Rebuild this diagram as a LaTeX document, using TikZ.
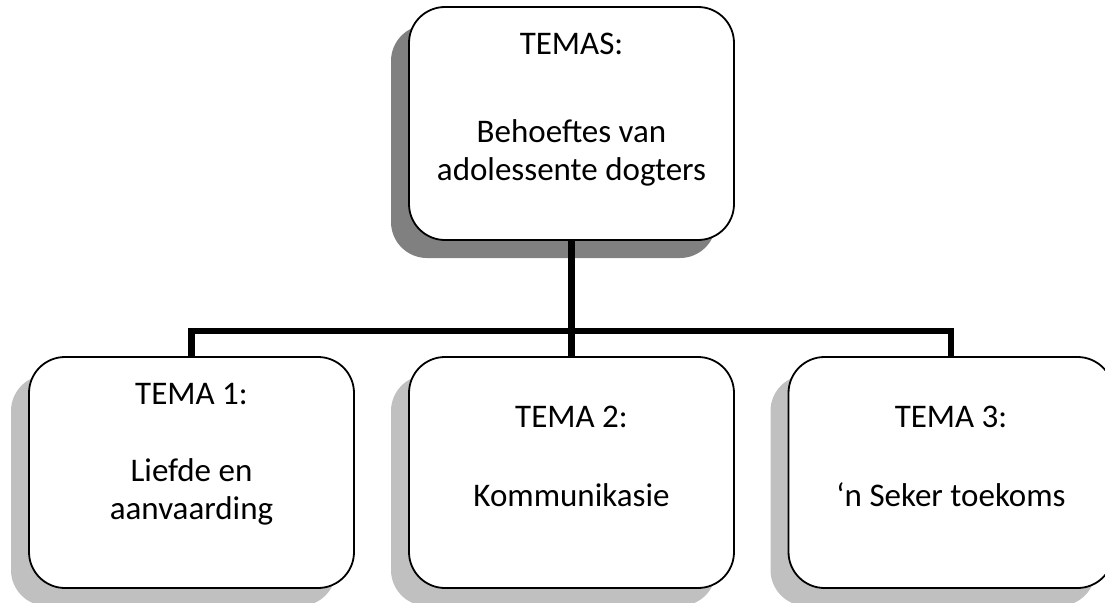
\documentclass[tikz,border=0pt]{standalone}
\usepackage{fontspec}
\setmainfont{Carlito}
\usetikzlibrary{shadows}
\definecolor{shdark}{HTML}{808080}
\definecolor{shlight}{HTML}{C0C0C0}
\tikzset{
  box/.style={draw=black, line width=1.8pt, fill=white, rounded corners=36pt,
    minimum width=325pt, minimum height=#1, inner sep=0pt, outer sep=0pt},
  darkshadow/.style={drop shadow={shadow xshift=-18pt, shadow yshift=-18pt, fill=shdark, draw=none, opacity=1}},
  lightshadow/.style={drop shadow={shadow xshift=-18pt, shadow yshift=-18pt, fill=shlight, draw=none, opacity=1}},
  conn/.style={line width=6.5pt, line join=miter, line cap=butt},
  txt/.style={anchor=base, inner sep=0pt, font=\fontsize{33}{38}\selectfont}
}
\begin{document}
\begin{tikzpicture}[x=1pt, y=-1pt]
\useasboundingbox (0,0) rectangle (1105,602);
\clip (0,0) rectangle (1105,602);
% boxes
\node[box=233pt, darkshadow] (top) at (571.5,123.5) {};
\node[box=231pt, lightshadow] (t1) at (191.5,472.5) {};
\node[box=231pt, lightshadow] (t2) at (571.5,472.5) {};
\node[box=231pt, lightshadow] (t3) at (951,472.5) {};
% connectors
\coordinate (hub) at (571.5,331);
\draw[conn] (top.south) -- (hub);
\draw[conn] (t1.north) |- (hub) -| (t3.north);
\draw[conn] (hub) -- (t2.north);
% texts
\node[txt] (a0) at (571.5,55) {TEMAS:};
\node[txt] (a1) at (571.5,142) {Behoeftes van};
\node[txt] (a2) at (571.5,180) {adolessente dogters};
\node[txt] (b0) at (191.5,404) {TEMA 1:};
\node[txt] (b1) at (191.5,481) {Liefde en};
\node[txt] (b2) at (191.5,519) {aanvaarding};
\node[txt] (c0) at (571.5,427) {TEMA 2:};
\node[txt] (c1) at (571.5,506) {Kommunikasie};
\node[txt] (d0) at (951,427) {TEMA 3:};
\node[txt] (d1) at (951,506) {‘n Seker toekoms};
\end{tikzpicture}
\end{document}
